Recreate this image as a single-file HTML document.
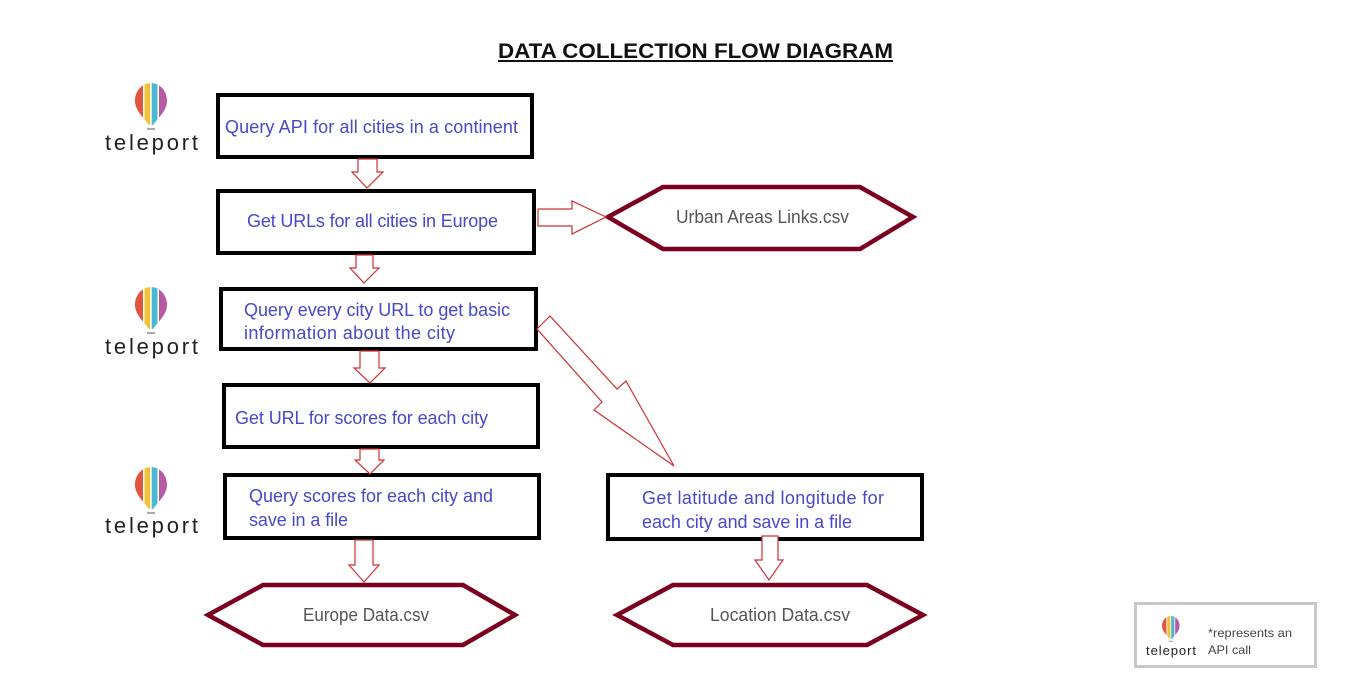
<!DOCTYPE html>
<html><head><meta charset="utf-8"><style>
html,body{margin:0;padding:0;background:#fff;}
svg{display:block;}
text{font-family:"Liberation Sans",sans-serif;}
</style></head><body>
<svg width="1350" height="679" viewBox="0 0 1350 679" xmlns="http://www.w3.org/2000/svg">
<defs>
<clipPath id="bc"><path d="M0,18 C0,7 8,0 16,0 C24,0 32,7 32,18 C32,28 22,36 18,42 L14,42 C10,36 0,28 0,18 Z"/></clipPath>
<g id="balloon">
<g clip-path="url(#bc)">
<rect x="0" y="0" width="9" height="42" fill="#e0553f"/>
<rect x="9" y="0" width="7" height="42" fill="#f0c23a"/>
<rect x="16" y="0" width="7" height="42" fill="#4ab8d0"/>
<rect x="23" y="0" width="9" height="42" fill="#b75aa6"/>
<rect x="8" y="0" width="1.5" height="42" fill="#fff"/>
<rect x="15.2" y="0" width="1.5" height="42" fill="#fff"/>
<rect x="22.5" y="0" width="1.5" height="42" fill="#fff"/>
</g>
<rect x="12" y="45" width="8" height="2" fill="#aaa"/>
</g>
</defs>
<text x="498" y="58" font-size="21" font-weight="bold" fill="#111" textLength="395" lengthAdjust="spacingAndGlyphs">DATA COLLECTION FLOW DIAGRAM</text>
<line x1="498" y1="61" x2="893" y2="61" stroke="#111" stroke-width="2"/>

<g transform="translate(135,83)"><use href="#balloon"/></g>
<text x="105" y="150" font-size="22" fill="#222" textLength="93" lengthAdjust="spacing">teleport</text>
<g transform="translate(135,287)"><use href="#balloon"/></g>
<text x="105" y="354" font-size="22" fill="#222" textLength="93" lengthAdjust="spacing">teleport</text>
<g transform="translate(135,467)"><use href="#balloon"/></g>
<text x="105" y="533" font-size="22" fill="#222" textLength="93" lengthAdjust="spacing">teleport</text>

<g fill="#fff" stroke="#000" stroke-width="4">
<rect x="218" y="95" width="314" height="62"/>
<rect x="218" y="191" width="316" height="62"/>
<rect x="221" y="289" width="315" height="60"/>
<rect x="224" y="385" width="314" height="62"/>
<rect x="225" y="475" width="314" height="63"/>
<rect x="608" y="475" width="314" height="64"/>
</g>
<g fill="#4848c8" font-size="18" lengthAdjust="spacingAndGlyphs">
<text x="225" y="133" textLength="293">Query API for all cities in a continent</text>
<text x="247" y="227" textLength="251">Get URLs for all cities in Europe</text>
<text x="244" y="316" textLength="266">Query every city URL to get basic</text>
<text x="244" y="339" textLength="211">information about the city</text>
<text x="235" y="424" textLength="253">Get URL for scores for each city</text>
<text x="249" y="502" textLength="244">Query scores for each city and</text>
<text x="249" y="526" textLength="99">save in a file</text>
<text x="642" y="504" textLength="242">Get latitude and longitude for</text>
<text x="642" y="528" textLength="210">each city and save in a file</text>
</g>

<g fill="#fff" stroke="#7b0020" stroke-width="4.5">
<polygon points="608,217 663,187 860,187 913,217 860,249 663,249"/>
<polygon points="208,615 263,585 463,585 515,615 463,645 263,645"/>
<polygon points="617,615 673,585 867,585 923,615 867,645 673,645"/>
</g>
<g fill="#555" font-size="18">
<text x="676" y="223" textLength="173" lengthAdjust="spacingAndGlyphs">Urban Areas Links.csv</text>
<text x="303" y="621" textLength="126" lengthAdjust="spacingAndGlyphs">Europe Data.csv</text>
<text x="710" y="621" textLength="140" lengthAdjust="spacingAndGlyphs">Location Data.csv</text>
</g>

<g fill="#fff" stroke="#d03030" stroke-width="1.2">
<polygon points="358,159 377,159 377,172 383,172 367,188 352,172 358,172"/>
<polygon points="356,255 373,255 373,268 379,268 364,283 350,268 356,268"/>
<polygon points="360,351 379,351 379,368 385,368 370,383 354,368 360,368"/>
<polygon points="360,449 379,449 379,460 384,460 370,474 355,460 360,460"/>
<polygon points="355,540 373,540 373,565 379,565 364,582 349,565 355,565"/>
<polygon points="762,536 778,536 778,560 783,560 769,580 755,560 762,560"/>
<polygon points="538,209 572,209 572,201 606,217 572,234 572,226 538,226"/>
<polygon points="537,329 550,316 617,389 626,381 674,466 594,410 602,402"/>
</g>

<rect x="1135.5" y="603.5" width="180" height="63" fill="#fff" stroke="#c8c8c8" stroke-width="3"/>
<g transform="translate(1162,616) scale(0.55)"><use href="#balloon"/></g>
<text x="1146" y="655" font-size="13" fill="#222" textLength="50" lengthAdjust="spacing">teleport</text>
<text x="1208" y="637" font-size="12" fill="#444" textLength="84" lengthAdjust="spacingAndGlyphs">*represents an</text>
<text x="1208" y="654" font-size="12" fill="#444" textLength="43" lengthAdjust="spacingAndGlyphs">API call</text>
</svg>
</body></html>
